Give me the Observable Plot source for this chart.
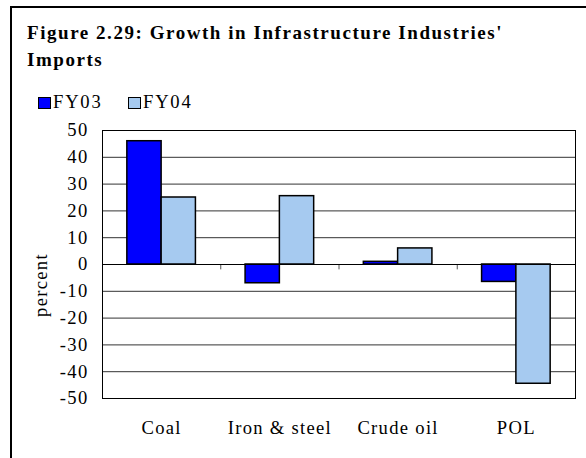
<!DOCTYPE html>
<html>
<head>
<meta charset="utf-8">
<script src="https://cdn.jsdelivr.net/npm/d3@7"></script>
<script src="https://cdn.jsdelivr.net/npm/@observablehq/plot@0.6"></script>
<style>
  html, body { margin: 0; padding: 0; background: #fff; }
  body { width: 586px; height: 458px; position: relative; overflow: hidden; font-family: "Liberation Serif", "Times New Roman", serif; color: #000; }
  #border { position: absolute; left: 10px; top: 6px; width: 600px; height: 470px; border-left: 2.5px solid #000; border-top: 2.5px solid #000; box-sizing: border-box; }
  #title { position: absolute; left: 27px; top: 20px; font-weight: bold; font-size: 19px; line-height: 26.5px; letter-spacing: 1.55px; white-space: nowrap; }
  .sw { position: absolute; top: 97px; width: 13px; height: 12px; border: 1.2px solid #000; box-sizing: border-box; }
  .lt { position: absolute; top: 92px; font-size: 18.6px; line-height: 20px; letter-spacing: 1.8px; white-space: nowrap; }
  #ylabel { position: absolute; left: 41px; top: 285px; font-size: 18.6px; line-height: 20px; letter-spacing: 1.3px; white-space: nowrap; transform: translate(-50%, -50%) rotate(-90deg); }
  #chart { position: absolute; left: 0; top: 110px; }
</style>
</head>
<body>
<div id="border"></div>
<div id="title">Figure 2.29: Growth in Infrastructure Industries'<br>Imports</div>
<div id="legend"></div>
<div id="ylabel">percent</div>
<div id="chart"></div>
<script>
const categories = ["Coal", "Iron & steel", "Crude oil", "POL"];
const series = ["FY03", "FY04"];
const fy03 = [46, -7, 1, -6.5];
const fy04 = [25, 25.5, 6, -44.5];
const yTicks = [50, 40, 30, 20, 10, 0, -10, -20, -30, -40, -50];
const colors = ["#0000FF", "#A6CAF0"];

// legend (layout positions for each entry)
const legendX = [38, 128];
const legend = document.getElementById("legend");
series.forEach((s, k) => {
  const sw = document.createElement("div");
  sw.className = "sw";
  sw.style.left = legendX[k] + "px";
  sw.style.background = colors[k];
  const t = document.createElement("div");
  t.className = "lt";
  t.style.left = (legendX[k] + 15) + "px";
  t.textContent = s;
  legend.appendChild(sw);
  legend.appendChild(t);
});

// table: bar placement inside each category band (layout), values from arrays
const barStart = [0.21, 0.5];
const barWidth = 0.29;
const rows = [];
categories.forEach((c, i) => {
  [fy03, fy04].forEach((vals, k) => {
    rows.push({cat: c, series: series[k], value: vals[i],
               x1: i + barStart[k], x2: i + barStart[k] + barWidth});
  });
});
const boundaries = d3.range(1, categories.length);
const labelPos = categories.map((c, i) => i + 0.5);

const chart = Plot.plot({
  width: 586,
  height: 348,
  marginTop: 20,
  marginBottom: 60,
  marginLeft: 102,
  marginRight: 11,
  style: {fontFamily: "'Liberation Serif', 'Times New Roman', serif", fontSize: "18.6px", letterSpacing: "1.3px", color: "#000", background: "transparent", overflow: "visible"},
  x: {domain: [0, categories.length], axis: null},
  y: {domain: [-50, 50], axis: null},
  color: {domain: series, range: colors},
  marks: [
    Plot.ruleY(yTicks, {stroke: "#333", strokeWidth: 1}),
    Plot.ruleX(boundaries, {y1: 0, y2: -2, stroke: "#555", strokeWidth: 1}),
    Plot.rectY(rows, {x1: "x1", x2: "x2", y1: 0, y2: "value", fill: "series", stroke: "#000", strokeWidth: 1.5}),
    Plot.ruleY([0], {stroke: "#000", strokeWidth: 1}),
    Plot.frame({stroke: "#000", strokeWidth: 1}),
    Plot.axisY({ticks: yTicks, tickSize: 0, tickPadding: 14, tickFormat: d => String(d), fontSize: 18.6, label: null}),
    Plot.axisX({ticks: labelPos, tickSize: 0, tickPadding: 22, tickFormat: (d, i) => categories[i], fontSize: 18.6, label: null})
  ]
});
document.getElementById("chart").appendChild(chart);
</script>
</body>
</html>
